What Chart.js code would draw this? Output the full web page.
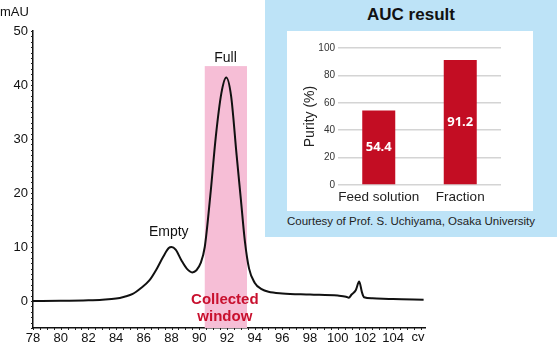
<!DOCTYPE html>
<html>
<head>
<meta charset="utf-8">
<script src="https://cdn.jsdelivr.net/npm/chart.js@4/dist/chart.umd.min.js"></script>
<style>
  html, body { margin: 0; padding: 0; background: #fff; }
  body { width: 557px; height: 348px; position: relative; overflow: hidden;
         font-family: "Liberation Sans", Arial, sans-serif; }
  #trace { position: absolute; left: 0; top: 0; }
  #auc-panel { position: absolute; left: 265px; top: 0; width: 292px; height: 237px; background: #bde3f7; }
  #auc-title { position: absolute; left: 0; top: 5px; width: 100%; text-align: center;
               font-weight: bold; font-size: 17px; color: #111; }
  #auc-inner { position: absolute; left: 22px; top: 31px; width: 246px; height: 180px; background: #fff; }
  #auc-credit { position: absolute; left: 0; top: 215px; width: 100%; text-align: center;
                font-size: 11.5px; color: #222; }
</style>
</head>
<body>
<canvas id="trace" width="557" height="348"></canvas>
<div id="auc-panel">
  <div id="auc-title">AUC result</div>
  <div id="auc-inner"><canvas id="purity" width="246" height="180"></canvas></div>
  <div id="auc-credit">Courtesy of Prof. S. Uchiyama, Osaka University</div>
</div>
<script>
// Chromatogram trace (elution volume in cv, absorbance in mAU)
const cvValues = [78, 80, 82, 83, 84, 84.6, 85.2, 85.8, 86.4, 86.9, 87.4, 87.8, 88.0, 88.3, 88.7, 89.1, 89.5,
                  89.8, 90.1, 90.4, 90.8, 91.2, 91.6, 91.95, 92.3, 92.7, 93.0, 93.3, 93.6, 94.0, 94.5, 95.0,
                  96, 98, 100, 100.6, 100.8, 101.0, 101.3, 101.55, 101.75, 101.9, 102.5, 104, 106.2];
const absorbance = [0, 0.05, 0.15, 0.25, 0.45, 0.8, 1.3, 2.4, 3.8, 5.8, 8.2, 9.8, 10.0, 9.5, 7.6, 6.0, 5.3,
                    5.7, 7.0, 10.0, 19.5, 30.5, 38.5, 41.4, 38.0, 27.0, 19.0, 11.0, 6.0, 3.4, 2.2, 1.7,
                    1.4, 1.2, 1.0, 0.8, 0.6, 1.2, 2.0, 3.6, 1.6, 0.7, 0.5, 0.35, 0.25];
const cvTicks = [78, 80, 82, 84, 86, 88, 90, 92, 94, 96, 98, 100, 102, 104];
const mauTicks = [0, 10, 20, 30, 40, 50];
const collectedWindow = [90.4, 93.45];
const collectedWindowTop = 43.5;

// AUC purity result
const purityCategories = ['Feed solution', 'Fraction'];
const purityValues = [54.4, 91.2];
const purityTicks = [0, 20, 40, 60, 80, 100];

const FONT = '"Liberation Sans", Arial, sans-serif';

// Shaded collection window, peak names and axis units
const tracePlugin = {
  id: 'traceDecor',
  beforeDatasetsDraw(chart) {
    const { ctx, scales: { x, y } } = chart;
    const x0 = x.getPixelForValue(collectedWindow[0]);
    const x1 = x.getPixelForValue(collectedWindow[1]);
    const yTop = y.getPixelForValue(collectedWindowTop);
    const yBot = y.getPixelForValue(y.min);
    ctx.save();
    ctx.fillStyle = '#f6bed6';
    ctx.fillRect(x0, yTop, x1 - x0, yBot - yTop);
    ctx.restore();
  },
  afterDraw(chart) {
    const { ctx, scales: { x, y } } = chart;
    ctx.save();
    ctx.textAlign = 'center';
    ctx.textBaseline = 'middle';
    ctx.fillStyle = '#111';
    ctx.font = '14px ' + FONT;
    ctx.fillText('Full', x.getPixelForValue(91.9), y.getPixelForValue(45.0));
    ctx.fillText('Empty', x.getPixelForValue(87.8), y.getPixelForValue(12.8));
    ctx.fillStyle = '#c8102e';
    ctx.font = 'bold 15px ' + FONT;
    ctx.fillText('Collected', x.getPixelForValue(91.85), y.getPixelForValue(0.2));
    ctx.fillText('window', x.getPixelForValue(91.85), y.getPixelForValue(-2.9));
    ctx.fillStyle = '#111';
    ctx.font = '13px ' + FONT;
    ctx.textAlign = 'left';
    ctx.fillText('mAU', 0, 12);
    ctx.textAlign = 'center';
    ctx.fillText('cv', x.getPixelForValue(105.8), y.bottom + 9);

    // small minor ticks along both axes
    ctx.strokeStyle = '#222';
    ctx.lineWidth = 1;
    ctx.beginPath();
    for (let v = -5; v <= 50; v += 1) {
      const py = Math.round(y.getPixelForValue(v)) + 0.5;
      ctx.moveTo(x.left - 2, py);
      ctx.lineTo(x.left, py);
    }
    for (let v = 78; v <= 106.2; v += 0.5) {
      const px = Math.round(x.getPixelForValue(v)) + 0.5;
      ctx.moveTo(px, y.bottom);
      ctx.lineTo(px, y.bottom + 2);
    }
    ctx.stroke();
    ctx.restore();
  }
};

new Chart(document.getElementById('trace'), {
  type: 'line',
  data: {
    datasets: [{
      data: cvValues.map((v, i) => ({ x: v, y: absorbance[i] })),
      borderColor: '#111',
      borderWidth: 2,
      pointRadius: 0,
      cubicInterpolationMode: 'monotone',
      fill: false
    }]
  },
  options: {
    responsive: false,
    animation: false,
    layout: { padding: { top: 31, right: 132, left: 0, bottom: 0 } },
    plugins: { legend: { display: false }, tooltip: { enabled: false } },
    scales: {
      x: {
        type: 'linear', min: 78, max: 106.3,
        afterBuildTicks(s) { s.ticks = cvTicks.map(v => ({ value: v })); },
        afterFit(s) { s.height = 20; },
        grid: { display: false, drawTicks: false },
        border: { display: true, color: '#111', width: 1.5 },
        ticks: { color: '#111', font: { family: FONT, size: 13 }, padding: 3, maxRotation: 0, autoSkip: false }
      },
      y: {
        type: 'linear', min: -5, max: 50,
        afterBuildTicks(s) { s.ticks = mauTicks.map(v => ({ value: v })); },
        afterFit(s) { s.width = 33; },
        grid: { display: false, drawTicks: false },
        border: { display: true, color: '#111', width: 1.5 },
        ticks: { color: '#111', font: { family: FONT, size: 13 }, padding: 5 }
      }
    }
  },
  plugins: [tracePlugin]
});

// Value labels centred inside each bar
const barLabelPlugin = {
  id: 'barLabels',
  afterDatasetsDraw(chart) {
    const { ctx } = chart;
    const meta = chart.getDatasetMeta(0);
    ctx.save();
    ctx.fillStyle = '#fff';
    ctx.font = 'bold 13px "Open Sans", ' + FONT;
    ctx.textAlign = 'center';
    ctx.textBaseline = 'middle';
    meta.data.forEach((bar, i) => {
      ctx.fillText(purityValues[i].toFixed(1), bar.x, (bar.y + bar.base) / 2);
    });
    ctx.restore();
  }
};

new Chart(document.getElementById('purity'), {
  type: 'bar',
  data: {
    labels: purityCategories,
    datasets: [{
      data: purityValues,
      backgroundColor: '#c30d23',
      barPercentage: 0.405,
      categoryPercentage: 1.0
    }]
  },
  options: {
    responsive: false,
    animation: false,
    layout: { padding: { top: 17, right: 32, left: 0, bottom: 0 } },
    plugins: { legend: { display: false }, tooltip: { enabled: false } },
    scales: {
      x: {
        afterFit(s) { s.height = 26; },
        grid: { display: false, drawTicks: false },
        border: { display: false },
        ticks: { color: '#222', font: { family: FONT, size: 13.5 }, padding: 4,
                 maxRotation: 0, minRotation: 0, autoSkip: false }
      },
      y: {
        min: 0, max: 100,
        afterBuildTicks(s) { s.ticks = purityTicks.map(v => ({ value: v })); },
        afterFit(s) { s.width = 51; },
        grid: { color: '#d4d4d4', lineWidth: 1.5, drawTicks: false },
        border: { display: false },
        ticks: { color: '#333', font: { family: FONT, size: 10 }, padding: 3 },
        title: { display: true, text: 'Purity (%)', color: '#222',
                 font: { family: FONT, size: 14 }, padding: { top: 15, bottom: 0 } }
      }
    }
  },
  plugins: [barLabelPlugin]
});
</script>
</body>
</html>
